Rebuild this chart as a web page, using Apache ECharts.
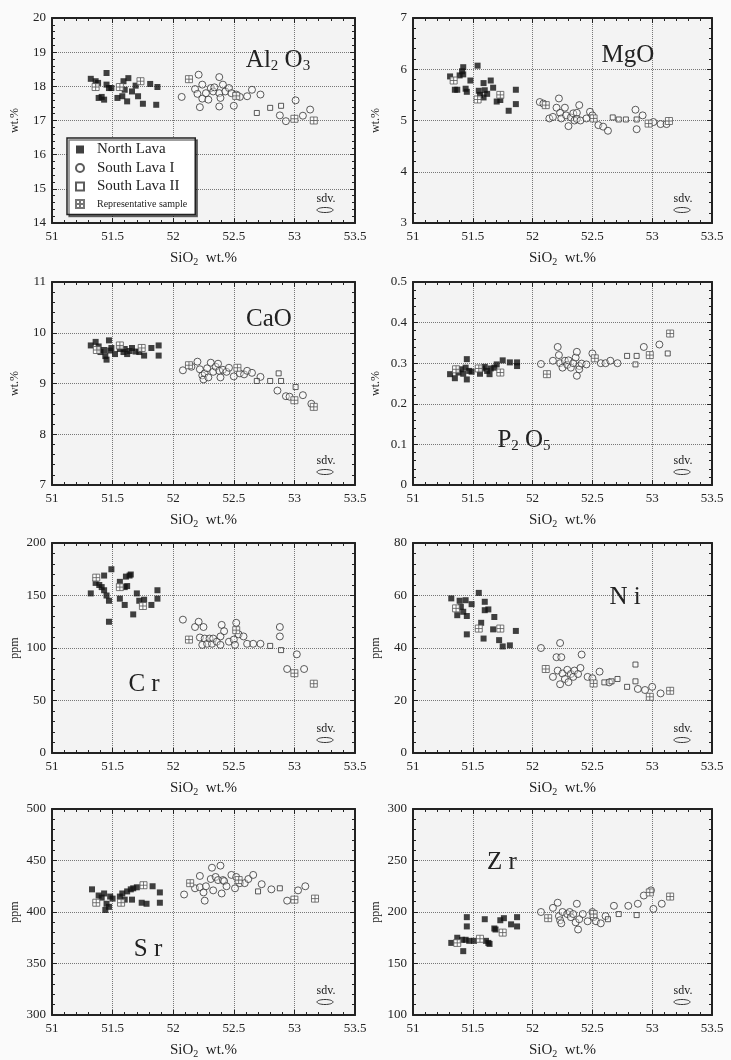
<!DOCTYPE html>
<html>
<head>
<meta charset="utf-8">
<title>SiO2 variation diagrams</title>
<script src="https://cdn.jsdelivr.net/npm/echarts@6/dist/echarts.min.js"></script>
<style>
html,body{margin:0;padding:0;background:#fafafa}
#main{width:731px;height:1060px}
</style>
</head>
<body>
<div id="main"></div>
<script>
// x ticks (SiO2 wt.%)
var xTicks = [51, 51.5, 52, 52.5, 53, 53.5];
var seriesNames = ['North Lava', 'South Lava I', 'South Lava II', 'Representative sample'];

// Al2O3
var alNorth = [[51.32,18.22],[51.36,18.15],[51.38,18.1],[51.385,17.66],[51.41,17.69],[51.43,17.61],[51.45,18.39],[51.45,18.05],[51.47,17.95],[51.49,17.95],[51.54,17.66],[51.58,17.71],[51.59,18.15],[51.60,17.9],[51.62,17.56],[51.63,18.24],[51.66,17.85],[51.69,18.02],[51.71,17.71],[51.75,17.49],[51.81,18.07],[51.86,17.46],[51.87,17.98]];
var alSouth1 = [[52.07,17.69],[52.18,17.92],[52.20,17.78],[52.21,18.34],[52.22,17.39],[52.24,17.64],[52.24,18.05],[52.27,17.8],[52.29,17.61],[52.31,17.95],[52.33,17.85],[52.34,17.97],[52.38,18.27],[52.38,17.8],[52.38,17.41],[52.39,17.66],[52.41,18.05],[52.43,17.85],[52.46,17.95],[52.48,17.8],[52.50,17.43],[52.52,17.76],[52.55,17.69],[52.61,17.71],[52.65,17.9],[52.72,17.76],[52.88,17.15],[52.93,16.98],[53.01,17.59],[53.07,17.14],[53.13,17.32]];
var alSouth2 = [[52.69,17.22],[52.80,17.37],[52.89,17.43]];
var alRep = [[51.36,17.98],[51.56,17.98],[51.73,18.15],[52.13,18.21],[52.52,17.72],[53.0,17.05],[53.16,17.0]];

// MgO
var mgNorth = [[51.31,5.86],[51.35,5.60],[51.37,5.60],[51.39,5.88],[51.41,5.96],[51.42,6.04],[51.42,5.90],[51.44,5.62],[51.45,5.56],[51.48,5.78],[51.54,6.07],[51.55,5.58],[51.56,5.50],[51.59,5.73],[51.59,5.45],[51.60,5.59],[51.62,5.52],[51.65,5.78],[51.67,5.64],[51.70,5.37],[51.73,5.40],[51.80,5.19],[51.86,5.60],[51.86,5.32]];
var mgSouth1 = [[52.06,5.36],[52.09,5.33],[52.14,5.04],[52.17,5.07],[52.20,5.25],[52.22,5.43],[52.23,5.15],[52.24,5.04],[52.27,5.25],[52.28,5.10],[52.30,4.89],[52.32,5.06],[52.34,5.14],[52.35,5.0],[52.37,5.15],[52.39,5.30],[52.37,5.03],[52.40,5.0],[52.45,5.04],[52.48,5.17],[52.50,5.10],[52.55,4.91],[52.59,4.88],[52.63,4.80],[52.86,5.21],[52.87,4.83],[52.92,5.10],[53.01,4.97],[53.07,4.93],[53.12,4.93]];
var mgSouth2 = [[52.67,5.06],[52.72,5.02],[52.78,5.02],[52.87,5.02]];
var mgRep = [[51.34,5.78],[51.54,5.41],[51.73,5.50],[52.11,5.30],[52.51,5.04],[52.97,4.94],[53.14,4.99]];

// CaO
var caNorth = [[51.32,9.75],[51.36,9.82],[51.385,9.73],[51.40,9.62],[51.43,9.66],[51.44,9.54],[51.45,9.47],[51.47,9.85],[51.48,9.65],[51.49,9.70],[51.52,9.58],[51.56,9.68],[51.59,9.62],[51.60,9.68],[51.62,9.58],[51.64,9.64],[51.66,9.70],[51.69,9.63],[51.72,9.62],[51.76,9.55],[51.82,9.70],[51.88,9.75],[51.88,9.55]];
var caSouth1 = [[52.08,9.26],[52.15,9.33],[52.20,9.43],[52.22,9.28],[52.24,9.16],[52.25,9.08],[52.26,9.20],[52.28,9.30],[52.29,9.12],[52.31,9.41],[52.33,9.23],[52.35,9.33],[52.37,9.39],[52.38,9.25],[52.39,9.12],[52.41,9.27],[52.44,9.23],[52.46,9.31],[52.50,9.14],[52.55,9.20],[52.585,9.18],[52.61,9.25],[52.65,9.21],[52.72,9.13],[52.86,8.86],[52.93,8.75],[52.96,8.74],[53.07,8.77],[53.14,8.60]];
var caSouth2 = [[52.69,9.05],[52.80,9.05],[52.87,9.20],[52.89,9.05],[53.01,8.93]];
var caRep = [[51.37,9.66],[51.56,9.75],[51.74,9.70],[52.13,9.36],[52.53,9.31],[53.0,8.67],[53.16,8.54]];

// P2O5
var pNorth = [[51.31,0.273],[51.35,0.263],[51.38,0.277],[51.40,0.285],[51.42,0.274],[51.44,0.289],[51.45,0.31],[51.45,0.26],[51.47,0.281],[51.49,0.279],[51.56,0.274],[51.58,0.287],[51.60,0.291],[51.62,0.281],[51.64,0.273],[51.65,0.287],[51.68,0.289],[51.70,0.297],[51.75,0.307],[51.81,0.302],[51.87,0.302],[51.87,0.293]];
var pSouth1 = [[52.07,0.298],[52.17,0.306],[52.21,0.34],[52.22,0.32],[52.23,0.30],[52.25,0.289],[52.27,0.306],[52.29,0.296],[52.30,0.307],[52.32,0.289],[52.34,0.30],[52.36,0.314],[52.37,0.328],[52.37,0.269],[52.39,0.293],[52.39,0.285],[52.41,0.299],[52.45,0.297],[52.50,0.324],[52.57,0.30],[52.61,0.30],[52.65,0.306],[52.71,0.30],[52.93,0.34],[53.06,0.346]];
var pSouth2 = [[52.79,0.318],[52.87,0.318],[52.86,0.297],[53.13,0.324]];
var pRep = [[51.36,0.285],[51.55,0.287],[51.73,0.277],[52.12,0.273],[52.52,0.312],[52.98,0.32],[53.15,0.373]];

// Cr
var crNorth = [[51.32,152],[51.36,162],[51.39,160],[51.41,158],[51.43,169],[51.43,155],[51.45,150],[51.47,145],[51.47,125],[51.49,175],[51.56,163],[51.56,147],[51.60,141],[51.60,158],[51.61,168],[51.62,159],[51.64,169],[51.65,170],[51.67,132],[51.70,152],[51.72,145],[51.76,146],[51.82,141],[51.87,147],[51.87,155]];
var crSouth1 = [[52.08,127],[52.18,120],[52.21,125],[52.25,120],[52.22,110],[52.24,103],[52.26,109],[52.28,104],[52.30,109],[52.32,104],[52.33,109],[52.36,106],[52.39,103],[52.40,122],[52.39,111],[52.42,116],[52.46,106],[52.50,108],[52.51,103],[52.52,124],[52.54,113],[52.58,111],[52.61,104],[52.66,104],[52.72,104],[52.88,120],[52.88,111],[53.02,94],[52.94,80],[53.08,80]];
var crSouth2 = [[52.80,102],[52.89,98]];
var crRep = [[51.365,167],[51.56,158],[51.75,140],[52.13,108],[52.52,117],[53.0,76],[53.16,66]];

// Ni
var niNorth = [[51.32,58.9],[51.37,52.5],[51.39,58.0],[51.40,55.7],[51.42,53.8],[51.44,58.2],[51.45,52.2],[51.45,45.2],[51.49,56.7],[51.55,61.0],[51.57,49.6],[51.59,43.6],[51.60,57.6],[51.60,54.4],[51.63,54.7],[51.67,47.1],[51.68,51.8],[51.72,43.0],[51.75,40.6],[51.81,41.0],[51.86,46.5]];
var niSouth1 = [[52.07,40.0],[52.17,29.0],[52.20,36.5],[52.21,31.4],[52.23,41.9],[52.23,26.2],[52.24,36.5],[52.25,30.3],[52.27,28.2],[52.29,31.7],[52.30,27.0],[52.32,30.1],[52.34,29.0],[52.35,31.4],[52.38,30.1],[52.40,32.4],[52.41,37.5],[52.46,29.0],[52.50,28.5],[52.56,31.0],[52.64,26.9],[52.88,24.4],[52.94,24.0],[53.0,25.2],[53.07,22.7]];
var niSouth2 = [[52.60,26.9],[52.66,27.3],[52.71,28.2],[52.79,25.2],[52.86,33.7],[52.86,27.3]];
var niRep = [[51.36,55.1],[51.55,47.4],[51.73,47.4],[52.11,32.0],[52.51,26.5],[52.98,21.4],[53.15,23.7]];

// Sr
var srNorth = [[51.33,422],[51.385,416],[51.41,414],[51.43,418],[51.45,408],[51.44,402],[51.47,405],[51.48,415],[51.50,413],[51.56,415],[51.58,418],[51.60,412],[51.62,420],[51.65,422],[51.66,412],[51.67,423],[51.70,424],[51.74,409],[51.78,408],[51.83,425],[51.89,419],[51.89,409]];
var srSouth1 = [[52.09,417],[52.18,423],[52.22,435],[52.22,424],[52.25,419],[52.26,411],[52.27,425],[52.31,432],[52.32,443],[52.33,421],[52.35,434],[52.37,431],[52.39,445],[52.40,418],[52.41,431],[52.42,430],[52.44,425],[52.48,436],[52.51,423],[52.52,434],[52.55,428],[52.59,428],[52.62,432],[52.66,436],[52.73,427],[52.81,422],[52.94,411],[53.03,421],[53.09,425]];
var srSouth2 = [[52.70,420],[52.88,423]];
var srRep = [[51.365,409],[51.57,409],[51.755,426],[52.14,428],[52.54,431],[53.0,412],[53.17,413]];

// Zr
var zrNorth = [[51.32,170],[51.37,175],[51.41,173],[51.42,162],[51.44,173],[51.45,195],[51.45,186],[51.47,172],[51.51,172],[51.60,193],[51.61,172],[51.63,170],[51.64,169],[51.68,184],[51.69,183],[51.73,192],[51.76,194],[51.82,188],[51.87,195],[51.87,186]];
var zrSouth1 = [[52.07,200],[52.17,204],[52.21,209],[52.22,196],[52.23,192],[52.24,189],[52.25,200],[52.29,198],[52.31,200],[52.32,195],[52.34,198],[52.36,190],[52.37,208],[52.38,183],[52.39,193],[52.42,198],[52.46,191],[52.50,200],[52.51,195],[52.53,191],[52.57,189],[52.61,196],[52.68,206],[52.80,206],[52.88,208],[52.93,216],[52.99,221],[53.01,203],[53.08,208]];
var zrSouth2 = [[52.63,193],[52.72,198],[52.87,197]];
var zrRep = [[51.37,170],[51.56,174],[51.75,180],[52.13,194],[52.51,198],[52.98,219],[53.15,215]];

var font = '"Liberation Serif", "DejaVu Serif", serif';
var ink = '#222';

// panel layout: y range [min,max,interval], unit, label, position
var panels = [
    {data:[alNorth,alSouth1,alSouth2,alRep], y:[14,20,1], unit:'wt.%', label:'{m|Al}{s|2}{m| O}{s|3}', lx:278, ly:60, left:52, top:18, width:303, height:205},
    {data:[mgNorth,mgSouth1,mgSouth2,mgRep], y:[3,7,1], unit:'wt.%', label:'{m|MgO}', lx:628, ly:55, left:413, top:18, width:299, height:205},
    {data:[caNorth,caSouth1,caSouth2,caRep], y:[7,11,1], unit:'wt.%', label:'{m|CaO}', lx:269, ly:319, left:52, top:282, width:303, height:203},
    {data:[pNorth,pSouth1,pSouth2,pRep], y:[0,0.5,0.1], unit:'wt.%', label:'{m|P}{s|2}{m| O}{s|5}', lx:524, ly:440, left:413, top:282, width:299, height:203},
    {data:[crNorth,crSouth1,crSouth2,crRep], y:[0,200,50], unit:'ppm', label:'{m|C r}', lx:144, ly:684, left:52, top:543, width:303, height:210},
    {data:[niNorth,niSouth1,niSouth2,niRep], y:[0,80,20], unit:'ppm', label:'{m|N i}', lx:625, ly:597, left:413, top:543, width:299, height:210},
    {data:[srNorth,srSouth1,srSouth2,srRep], y:[300,500,50], unit:'ppm', label:'{m|S r}', lx:148, ly:949, left:52, top:809, width:303, height:206},
    {data:[zrNorth,zrSouth1,zrSouth2,zrRep], y:[100,300,50], unit:'ppm', label:'{m|Z r}', lx:502, ly:862, left:413, top:809, width:299, height:206}
];

// square paths keep their aspect in the legend too
var squarePath = 'path://M0,0H10V10H0Z';
var repPath = 'path://M0,0H10V10H0Z M5,0V10 M0,5H10';
var markStyles = [
    {symbol:squarePath, symbolSize:6, itemStyle:{color:'#111'}},
    {symbol:'circle', symbolSize:7, itemStyle:{color:'rgba(255,255,255,0.5)', borderColor:'#333', borderWidth:1}},
    {symbol:squarePath, symbolSize:5, itemStyle:{color:'rgba(255,255,255,0.5)', borderColor:'#333', borderWidth:1}},
    {symbol:repPath, symbolSize:7, itemStyle:{color:'#fff', borderColor:'#555', borderWidth:1}}
];

var grids = [], xAxes = [], yAxes = [], series = [], graphics = [];

panels.forEach(function(p, i){
    grids.push({left:p.left, top:p.top, width:p.width, height:p.height, show:true, backgroundColor:'#f3f3f3', borderWidth:0});

    // x axes: bottom with labels, top for the frame
    ['bottom','top'].forEach(function(pos){
        var main = pos === 'bottom';
        xAxes.push({
            gridIndex:i, type:'value', position:pos, min:xTicks[0], max:xTicks[xTicks.length-1], interval:0.5,
            name: main ? 'SiO{s|2}  wt.%' : '', nameLocation:'middle', nameGap:26,
            nameTextStyle:{fontFamily:font, fontSize:15, color:ink, rich:{s:{fontSize:10, verticalAlign:'bottom', padding:[8,0,0,0], fontFamily:font, color:ink}}},
            axisLine:{show:true, onZero:false, lineStyle:{color:ink, width:2}},
            axisTick:{show:true, inside:true, length:5, lineStyle:{color:ink}},
            minorTick:{show:true, splitNumber:5, length:3, lineStyle:{color:ink}},
            axisLabel:{show:main, fontFamily:font, fontSize:13, color:ink, margin:7},
            splitLine:{show:main, lineStyle:{color:'#777', type:'dotted', width:1}}
        });
    });
    // y axes: left with labels, right for the frame
    ['left','right'].forEach(function(pos){
        var main = pos === 'left';
        yAxes.push({
            gridIndex:i, type:'value', position:pos, min:p.y[0], max:p.y[1], interval:p.y[2],
            name: main ? p.unit : '', nameLocation:'middle', nameGap:31, nameRotate:90,
            nameTextStyle:{fontFamily:font, fontSize:12, color:ink},
            axisLine:{show:true, onZero:false, lineStyle:{color:ink, width:2}},
            axisTick:{show:true, inside:true, length:5, lineStyle:{color:ink}},
            minorTick:{show:true, splitNumber:5, length:3, lineStyle:{color:ink}},
            axisLabel:{show:main, fontFamily:font, fontSize:13, color:ink, margin:6},
            splitLine:{show:main, lineStyle:{color:'#777', type:'dotted', width:1}}
        });
    });

    p.data.forEach(function(d, k){
        var st = markStyles[k];
        series.push({
            name:seriesNames[k], type:'scatter', xAxisIndex:i*2, yAxisIndex:i*2,
            symbol:st.symbol, symbolSize:st.symbolSize, symbolKeepAspect:true, itemStyle:st.itemStyle,
            data:d, z:3+k
        });
    });

    // oxide / element label
    graphics.push({
        type:'text', x:p.lx, y:p.ly, z:10,
        style:{text:p.label, align:'center', verticalAlign:'middle',
            rich:{m:{fontFamily:font, fontSize:25, lineHeight:28, fill:ink},
                  s:{fontFamily:font, fontSize:15, lineHeight:16, verticalAlign:'bottom', fill:ink}}}
    });
    // sdv. marker in the lower right corner
    var sx = p.left + p.width - 29, sy = p.top + p.height - 24;
    graphics.push({type:'text', x:sx, y:sy, z:10, style:{text:'sdv.', align:'center', verticalAlign:'middle', font:'12px ' + font, fill:ink}});
    graphics.push({type:'ellipse', shape:{cx:sx - 1, cy:sy + 11, rx:8, ry:2.5}, z:10, style:{fill:'none', stroke:'#333', lineWidth:1}});
});

var chart = echarts.init(document.getElementById('main'));
chart.setOption({
    backgroundColor:'#fafafa',
    animation:false,
    grid:grids,
    xAxis:xAxes,
    yAxis:yAxes,
    legend:{
        data:seriesNames, orient:'vertical', left:67, top:138,
        itemWidth:24, itemHeight:8, itemGap:3.5,
        padding:[4,8,4,8],
        backgroundColor:'#fff', borderColor:'#222', borderWidth:1.5,
        shadowColor:'rgba(0,0,0,0.5)', shadowOffsetX:2, shadowOffsetY:2,
        formatter:function(name){ return name === 'Representative sample' ? '{s|' + name + '}' : name; },
        textStyle:{fontFamily:font, fontSize:15, lineHeight:13, color:ink, rich:{s:{fontFamily:font, fontSize:10, lineHeight:13, color:ink}}}
    },
    graphic:graphics,
    series:series
});
</script>
</body>
</html>
